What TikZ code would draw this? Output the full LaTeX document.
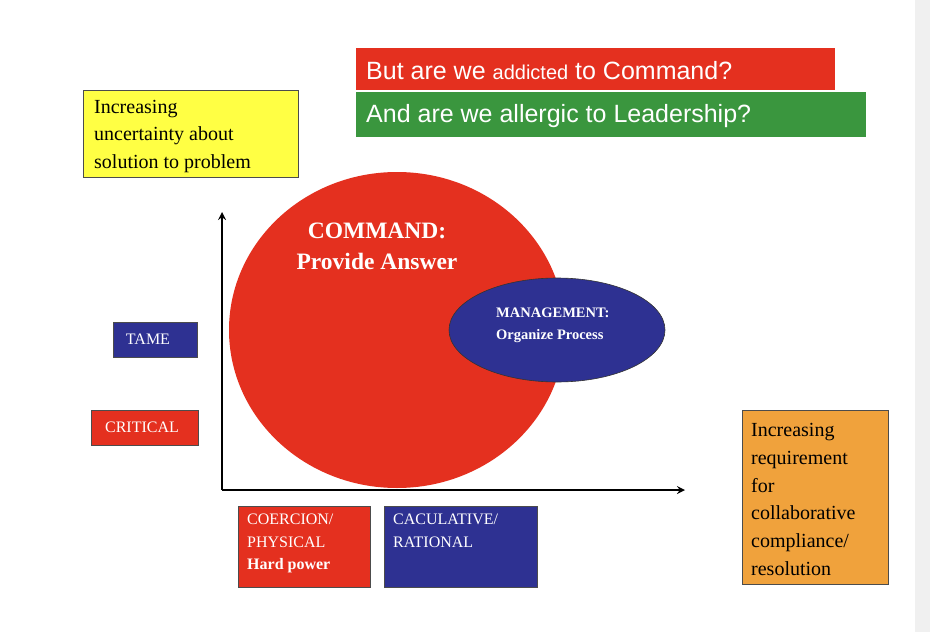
\documentclass[tikz,border=0pt]{standalone}
\usepackage{fontspec}
\setmainfont{Liberation Serif}
\newfontfamily\arialf{Liberation Sans}
\definecolor{cred}{HTML}{E4301F}
\definecolor{cblue}{HTML}{2E3192}
\definecolor{cgreen}{HTML}{3A963E}
\definecolor{corange}{HTML}{F0A23C}
\definecolor{cyellow}{HTML}{FFFF44}
\begin{document}
\begin{tikzpicture}[x=1pt,y=-1pt,
  box/.style={draw=black!70,line width=0.6pt,inner sep=0pt},
  lbl/.style={anchor=north west,align=left,font=\fontsize{14}{16}\selectfont}]
\useasboundingbox (0,0) rectangle (930,632);
\fill[white] (0,0) rectangle (930,632);
\fill[black!6] (915,0) rectangle (930,632);
% titles
\fill[cred] (356,48) rectangle (835,90);
\node[anchor=west,text=white,font=\arialf\fontsize{25}{28}\selectfont,inner sep=0pt] (t1) at (366,71) {But are we {\fontsize{20}{22}\selectfont addicted} to Command?};
\fill[cgreen] (356,92) rectangle (866,137);
\node[anchor=west,text=white,font=\arialf\fontsize{25}{28}\selectfont,inner sep=0pt] (t2) at (366,116) {And are we allergic to Leadership?};
% yellow
\draw[box,fill=cyellow] (83,90) rectangle (298,177);
\node[lbl,font=\fontsize{20}{27.5}\selectfont,inner sep=0pt] (y) at (94,100) {Increasing\\uncertainty about\\solution to problem};
% circle
\fill[cred] (397,330) ellipse [x radius=168,y radius=158];
\node[text=white,font=\bfseries\fontsize{23.5}{31}\selectfont,align=center] (cmd) at (377,246) {COMMAND:\\Provide Answer};
\draw[black!80,fill=cblue,line width=0.6pt] (557,330) ellipse [x radius=108,y radius=52];
\node[text=white,font=\bfseries\fontsize{14.5}{22}\selectfont,align=left,anchor=west,inner sep=0pt] (mg) at (496,325) {MANAGEMENT:\\Organize Process};
% axes
\coordinate (o) at (222,490);
\coordinate (yt) at (222,212);
\coordinate (xt) at (685,490);
\draw[line width=2.5pt,-stealth] (o) -- (yt);
\draw[line width=2.5pt,-stealth] (o) -- (xt);
% boxes
\draw[box,fill=cblue] (113,322) rectangle (197,357);
\node[text=white,font=\fontsize{16}{18}\selectfont] (tame) at (148,339) {TAME};
\draw[box,fill=cred] (91,410) rectangle (198,445);
\node[text=white,font=\fontsize{16}{18}\selectfont] (crit) at (142,427) {CRITICAL};
\draw[box,fill=cred] (238,506) rectangle (370,587);
\node[lbl,text=white,font=\fontsize{16}{22.5}\selectfont,inner sep=0pt] (coe) at (247,514) {COERCION/\\PHYSICAL\\\textbf{Hard power}};
\draw[box,fill=cblue] (384,506) rectangle (537,587);
\node[lbl,text=white,font=\fontsize{16}{22.5}\selectfont,inner sep=0pt] (cal) at (393,514) {CACULATIVE/\\RATIONAL};
\draw[box,fill=corange] (742,410) rectangle (888,584);
\node[lbl,font=\fontsize{20}{27.8}\selectfont,inner sep=0pt] (or) at (751,423) {Increasing\\requirement\\for\\collaborative\\compliance/\\resolution};
\end{tikzpicture}
\end{document}
